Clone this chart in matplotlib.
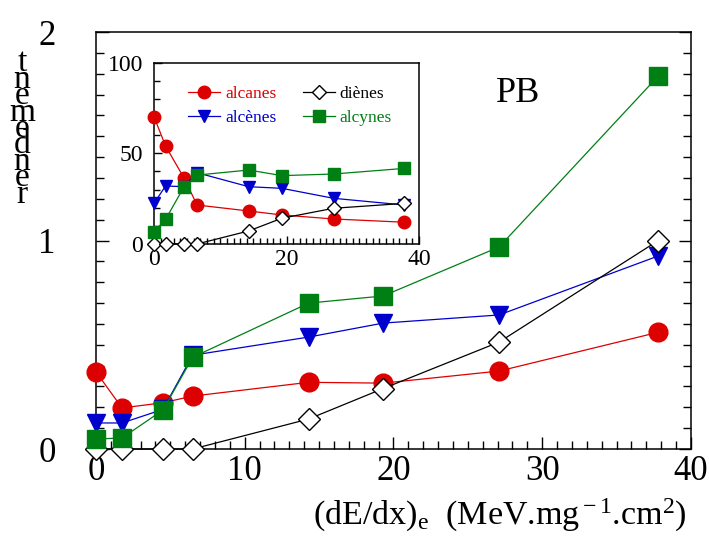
import matplotlib
matplotlib.use("Agg")
import matplotlib.pyplot as plt
from matplotlib.ticker import MultipleLocator

plt.rcParams['font.family'] = ['Liberation Serif', 'DejaVu Serif']
plt.rcParams['mathtext.fontset'] = 'custom'
plt.rcParams['mathtext.rm'] = 'Liberation Serif'
plt.rcParams['mathtext.it'] = 'Liberation Serif:italic'

# ---- data ----
x_vals = [0, 1.75, 4.5, 6.5, 14.3, 19.3, 27.1, 37.8]

# main panel (rendement)
alcanes_main = [0.37, 0.197, 0.222, 0.254, 0.32, 0.316, 0.374, 0.56]
alcenes_main = [0.125, 0.125, 0.19, 0.45, 0.537, 0.604, 0.643, 0.926]
dienes_main = [0.0, 0.0, 0.0, 0.0, 0.144, 0.29, 0.513, 1.0]
alcynes_main = [0.048, 0.053, 0.187, 0.44, 0.70, 0.734, 0.969, 1.789]

# inset (%)
alcanes_pct = [70.2, 54.0, 36.6, 21.5, 18.2, 16.0, 13.8, 12.0]
alcenes_pct = [22.4, 32.0, 31.6, 39.3, 31.6, 30.7, 25.2, 21.5]
dienes_pct = [0.0, 0.0, 0.0, 0.0, 7.2, 14.2, 19.7, 22.4]
alcynes_pct = [6.8, 13.6, 31.3, 38.0, 40.8, 37.7, 38.6, 41.7]

names = ['alcanes', 'alcènes', 'diènes', 'alcynes']
colors = ['#dd0000', '#0000cc', '#000000', '#007f15']
markers = ['o', 'v', 'D', 's']
main_series = [alcanes_main, alcenes_main, dienes_main, alcynes_main]
pct_series = [alcanes_pct, alcenes_pct, dienes_pct, alcynes_pct]

main_xticks = [0, 10, 20, 30, 40]
main_yticks = [0, 1, 2]
inset_xticks = [0, 20, 40]
inset_yticks = [0, 50, 100]

fig = plt.figure(figsize=(7.09, 5.45), dpi=100)

# ---- main axes ----
ax = fig.add_axes([0.1354, 0.1761, 0.8392, 0.7651])
main_ms = [13.5, 13.5, 11, 13.5]
for ys, c, m, ms in zip(main_series, colors, markers, main_ms):
    fc = 'white' if c == '#000000' else c
    ax.plot(x_vals, ys, color=c, lw=0.9, marker=m, ms=ms, mfc=fc,
            mec=c, mew=1.0, clip_on=False, zorder=3)
ax.set_xlim(0, 40)
ax.set_ylim(0, 2)
ax.set_xticks(main_xticks)
ax.set_yticks(main_yticks)
ax.xaxis.set_minor_locator(MultipleLocator(1))
ax.yaxis.set_minor_locator(MultipleLocator(0.1))
ax.tick_params(which='both', direction='in', top=False, right=True, labelsize=25, width=1)
ax.tick_params(which='major', length=9)
ax.tick_params(which='minor', length=6)
ax.tick_params(axis='y', pad=29)
ax.tick_params(axis='x', pad=4)
for s in ax.spines.values():
    s.set_linewidth(1.1)

fig.text(0.705, 0.02, r'(dE/dx)$_{\rm e}$  (MeV.mg$^{\rm -1}$.cm$^{\rm 2}$)',
         fontsize=24.5, ha='center', va='bottom')
fig.text(0.731, 0.829, 'PB', fontsize=26, ha='center', va='center')
fig.text(0.031, 0.912, '\n'.join(reversed('rendement')), fontsize=24,
         ha='center', va='top', linespacing=0.40)

# ---- inset ----
ins = fig.add_axes([0.2172, 0.5523, 0.3738, 0.3327])
inset_ms = [9, 9, 7.5, 9]
handles = []
for ys, c, m, ms, nm in zip(pct_series, colors, markers, inset_ms, names):
    fc = 'white' if c == '#000000' else c
    h, = ins.plot(x_vals, ys, color=c, lw=0.9, marker=m, ms=ms, mfc=fc,
                  mec=c, mew=1.0, clip_on=False, zorder=3, label=nm)
    handles.append(h)
ins.set_xlim(0, 40)
ins.set_ylim(0, 100)
ins.set_xticks(inset_xticks)
ins.set_yticks(inset_yticks)
ins.xaxis.set_minor_locator(MultipleLocator(1))
ins.yaxis.set_minor_locator(MultipleLocator(10))
ins.tick_params(which='both', direction='in', top=False, right=False, labelsize=17, width=1)
ins.tick_params(which='major', length=6)
ins.tick_params(which='minor', length=4)
ins.tick_params(axis='y', pad=8)
for s in ins.spines.values():
    s.set_linewidth(1.1)

leg = ins.legend(handles=handles, ncol=2, loc='upper left', bbox_to_anchor=(0.128, 0.872),
                 frameon=False, fontsize=12.5, handlelength=1.85, handletextpad=0.3,
                 columnspacing=1.5, labelspacing=0.45, borderaxespad=0, borderpad=0)
for t, c in zip(leg.get_texts(), colors):
    t.set_color(c)

fig.savefig('out.png', dpi=100)
